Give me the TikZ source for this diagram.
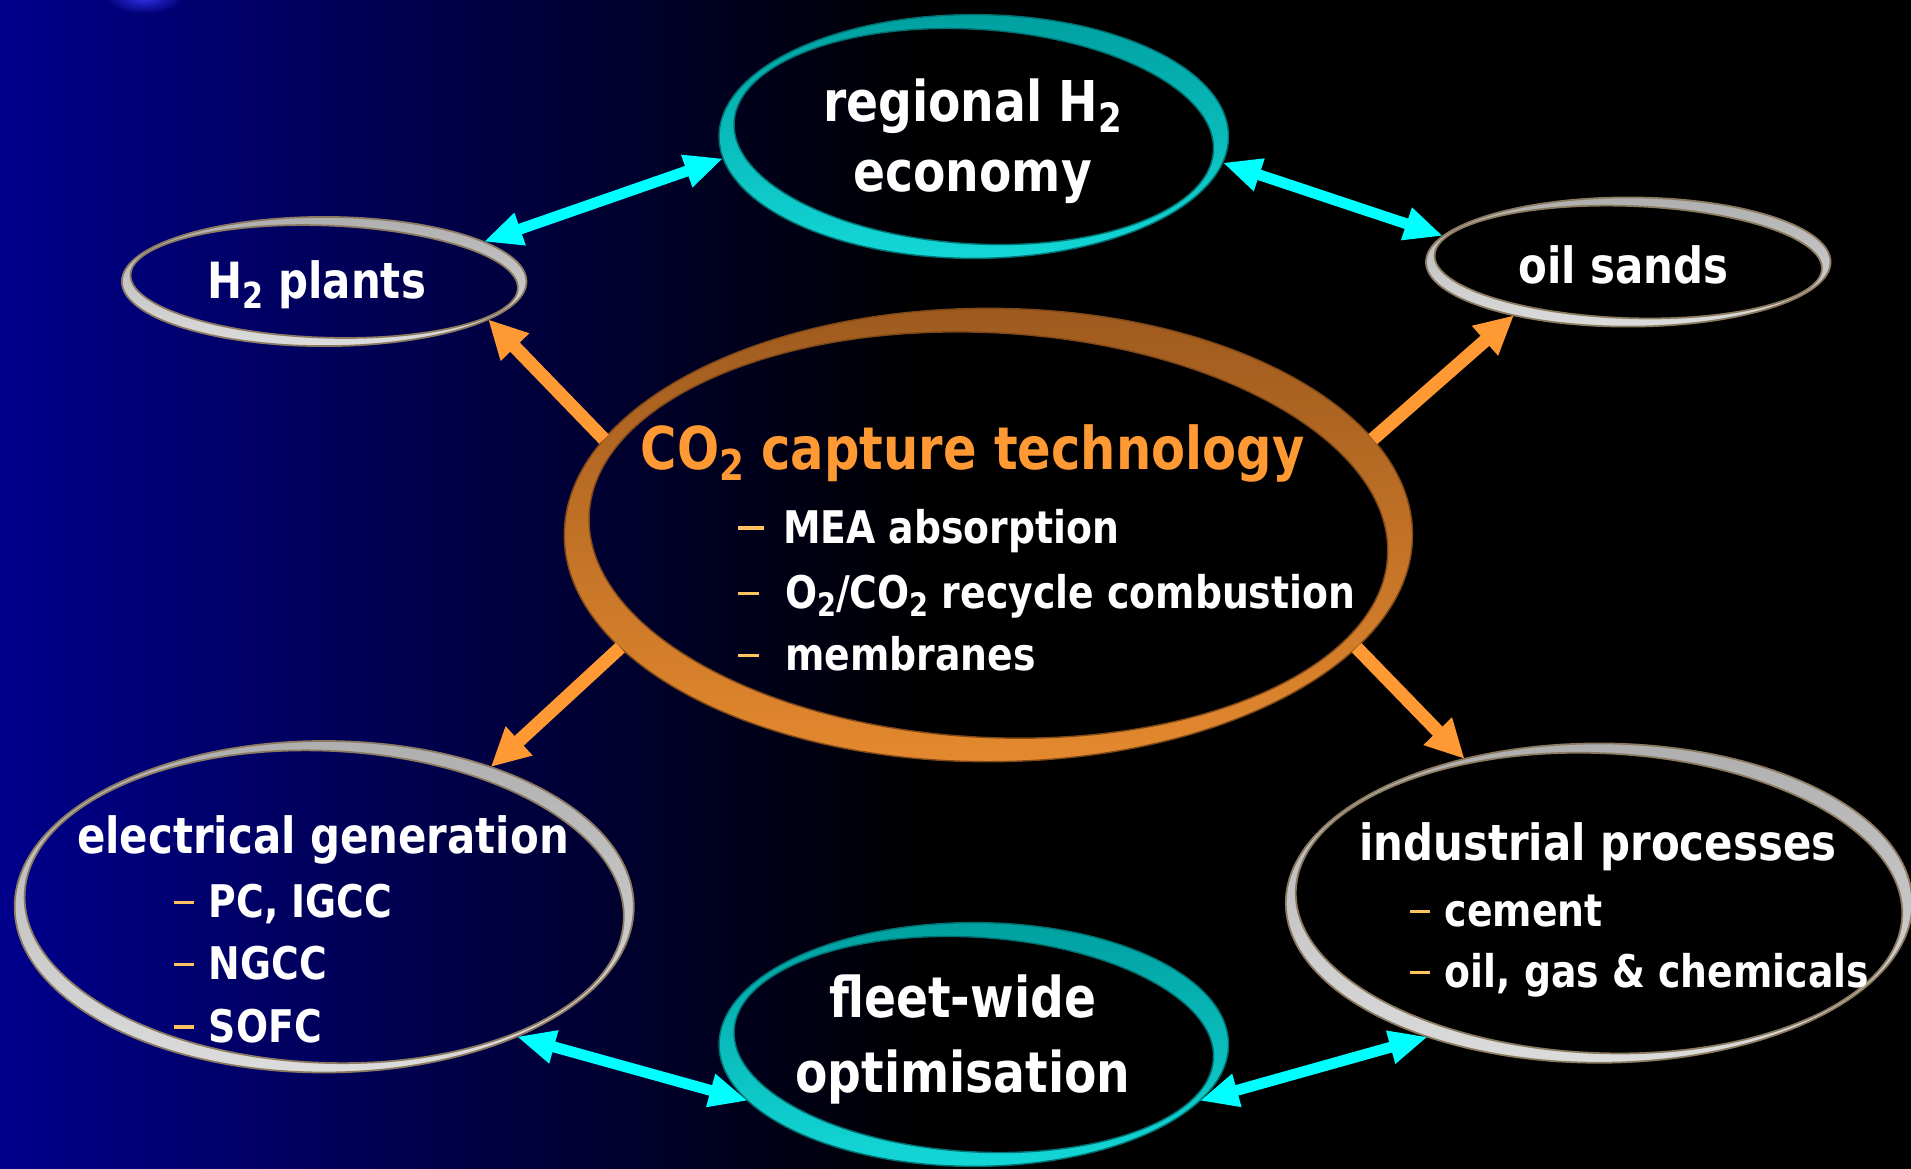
\documentclass[tikz,border=0pt]{standalone}
\usepackage{fontspec}
\setmainfont{DejaVu Sans}[FakeStretch=0.84]
\usetikzlibrary{arrows.meta,shapes.geometric}

\definecolor{bgblue}{RGB}{0,0,140}
\definecolor{bgmid}{RGB}{0,0,60}
\definecolor{blobblue}{RGB}{50,50,230}
\definecolor{arrcyan}{RGB}{0,255,255}
\definecolor{arrorange}{RGB}{255,153,51}
\definecolor{titleorange}{RGB}{255,153,51}
\definecolor{dashcol}{RGB}{255,196,96}
\definecolor{cyandark}{RGB}{0,160,160}
\definecolor{cyanlight}{RGB}{20,215,215}
\definecolor{greydark}{RGB}{175,175,175}
\definecolor{greylight}{RGB}{220,220,220}
\definecolor{orangedark}{RGB}{158,90,30}
\definecolor{orangelight}{RGB}{228,137,46}
\definecolor{ringedge}{RGB}{140,122,96}

\def\pxu{0.012188cm}
\newcommand{\subtwo}{\raisebox{-0.35ex}{\scalebox{0.72}{2}}}
% list dash: #1 box width, #2 dash length, #3 dash thickness
\newcommand{\listdash}[3]{\makebox[#1][l]{\textcolor{dashcol}{\rule[0.3em]{#2}{#3}}}}
% ring band: outer ellipse minus a slightly tilted inner ellipse
\newcommand{\ringband}[7]{%
  \path[#7, even odd rule] (#1,#2) ellipse [x radius=#3, y radius=#4]
    {[rotate around={#6:(#1,#2)}] (#1,#2) ellipse [x radius=#3-#5, y radius=#4-#5]};
}

\begin{document}
\begin{tikzpicture}[x=\pxu, y=-\pxu,
  ov/.style={ellipse, inner sep=0pt, outer sep=0pt},
  big/.style={text=white, font=\fontsize{16}{20}\selectfont\bfseries, align=center, inner sep=0pt},
  mid/.style={text=white, font=\fontsize{14.2}{18}\selectfont\bfseries, align=center, inner sep=0pt},
  head/.style={font=\fontsize{14.2}{17}\selectfont\bfseries, inner sep=0pt, anchor=base},
  item/.style={text=white, font=\fontsize{12.8}{15}\selectfont\bfseries, inner sep=0pt, anchor=base west},
  cyanring/.style={shade, top color=cyandark, bottom color=cyanlight, draw=cyandark!70!black, line width=0.4pt},
  greyring/.style={shade, top color=greydark, bottom color=greylight, draw=ringedge, line width=0.5pt},
  orangering/.style={shade, top color=orangedark, bottom color=orangelight, draw=orangedark!80!black, line width=0.4pt},
  twoway/.style={draw=arrcyan, line width=3.1pt,
     {Triangle[width=9pt,length=11pt]}-{Triangle[width=9pt,length=11pt]}},
  oneway/.style={draw=arrorange, line width=3.8pt, -{Triangle[width=10.5pt,length=11pt]}}
]
\useasboundingbox (0,0) rectangle (1568,959);
% background: blue on the left fading to black
\fill[black] (0,0) rectangle (1568,959);
\shade[left color=bgblue, middle color=bgmid, right color=black] (0,0) rectangle (760,959);
\begin{scope}
  \clip (0,0) rectangle (1568,959);
  \shade[inner color=blobblue, outer color=bgblue!85!black] (118,-2) ellipse [x radius=32, y radius=13];
\end{scope}

% ellipse nodes
\node[ov, minimum width=418*\pxu, minimum height=200*\pxu] (reg)  at (799,112) {};
\node[ov, minimum width=332*\pxu, minimum height=106*\pxu] (h2p)  at (266,231) {};
\node[ov, minimum width=332*\pxu, minimum height=106*\pxu] (oil)  at (1336,215) {};
\node[ov, minimum width=696*\pxu, minimum height=372*\pxu] (cap)  at (811,439) {};
\node[ov, minimum width=508*\pxu, minimum height=272*\pxu] (elec) at (266,744) {};
\node[ov, minimum width=514*\pxu, minimum height=262*\pxu] (ind)  at (1312,741) {};
\node[ov, minimum width=418*\pxu, minimum height=200*\pxu] (fleet) at (799,857) {};

% ring bands
\ringband{799}{112}{209}{100}{12}{-3.5}{cyanring}
\ringband{799}{857}{209}{100}{12}{-3.5}{cyanring}
\ringband{266}{231}{166}{53}{7}{-2}{greyring}
\ringband{1336}{215}{166}{53}{7}{-2}{greyring}
\ringband{266}{744}{254}{136}{8}{-2.5}{greyring}
\ringband{1312}{741}{257}{131}{8}{-2.5}{greyring}
\ringband{811}{439}{348}{186}{20}{-3}{orangering}

% texts
\node[big] (regt) at (798,116) {regional H\subtwo\\economy};
\node[mid] (h2t) at (260,234) {H\subtwo{} plants};
\node[mid] (oilt) at (1332,217) {oil sands};
\node[big, font=\fontsize{16}{21.5}\selectfont\bfseries] (fleett) at (790,853) {fleet-wide\\optimisation};

\node[head, text=titleorange, font=\fontsize{16.8}{20}\selectfont\bfseries] (capt) at (798,385) {CO\subtwo{} capture technology};
\node[item] (cap1) at (605,446) {\listdash{12.8pt}{7.3pt}{1.1pt}MEA absorption};
\node[item] (cap2) at (605,499) {\listdash{13.4pt}{5.9pt}{0.9pt}O\subtwo/CO\subtwo{} recycle combustion};
\node[item] (cap3) at (605,550) {\listdash{13.4pt}{5.9pt}{0.9pt}membranes};

\node[head, text=white] (elect) at (265,700) {electrical generation};
\node[item] (elec1) at (142,753) {\listdash{10pt}{5.9pt}{0.9pt}PC, IGCC};
\node[item] (elec2) at (142,804) {\listdash{10pt}{5.9pt}{0.9pt}NGCC};
\node[item] (elec3) at (142,855) {\listdash{10pt}{5.9pt}{0.9pt}SOFC};

\node[head, text=white] (indt) at (1311,706) {industrial processes};
\node[item] (ind1) at (1156,760) {\listdash{10pt}{5.9pt}{0.9pt}cement};
\node[item] (ind2) at (1156,810) {\listdash{10pt}{5.9pt}{0.9pt}oil, gas \& chemicals};

% two-way links
\draw[twoway] (h2p.14) -- (reg.185);
\draw[twoway] (reg.354) -- (oil.172);
\draw[twoway] (elec.326) -- (fleet.194);
\draw[twoway] (fleet.346) -- (ind.218);

% outgoing links from the capture hub
\draw[oneway] (cap.166) -- (h2p.347);
\draw[oneway] (cap.14) -- (oil.205);
\draw[oneway] (cap.197) -- (elec.40);
\draw[oneway] (cap.343) -- (ind.133);
\end{tikzpicture}
\end{document}
